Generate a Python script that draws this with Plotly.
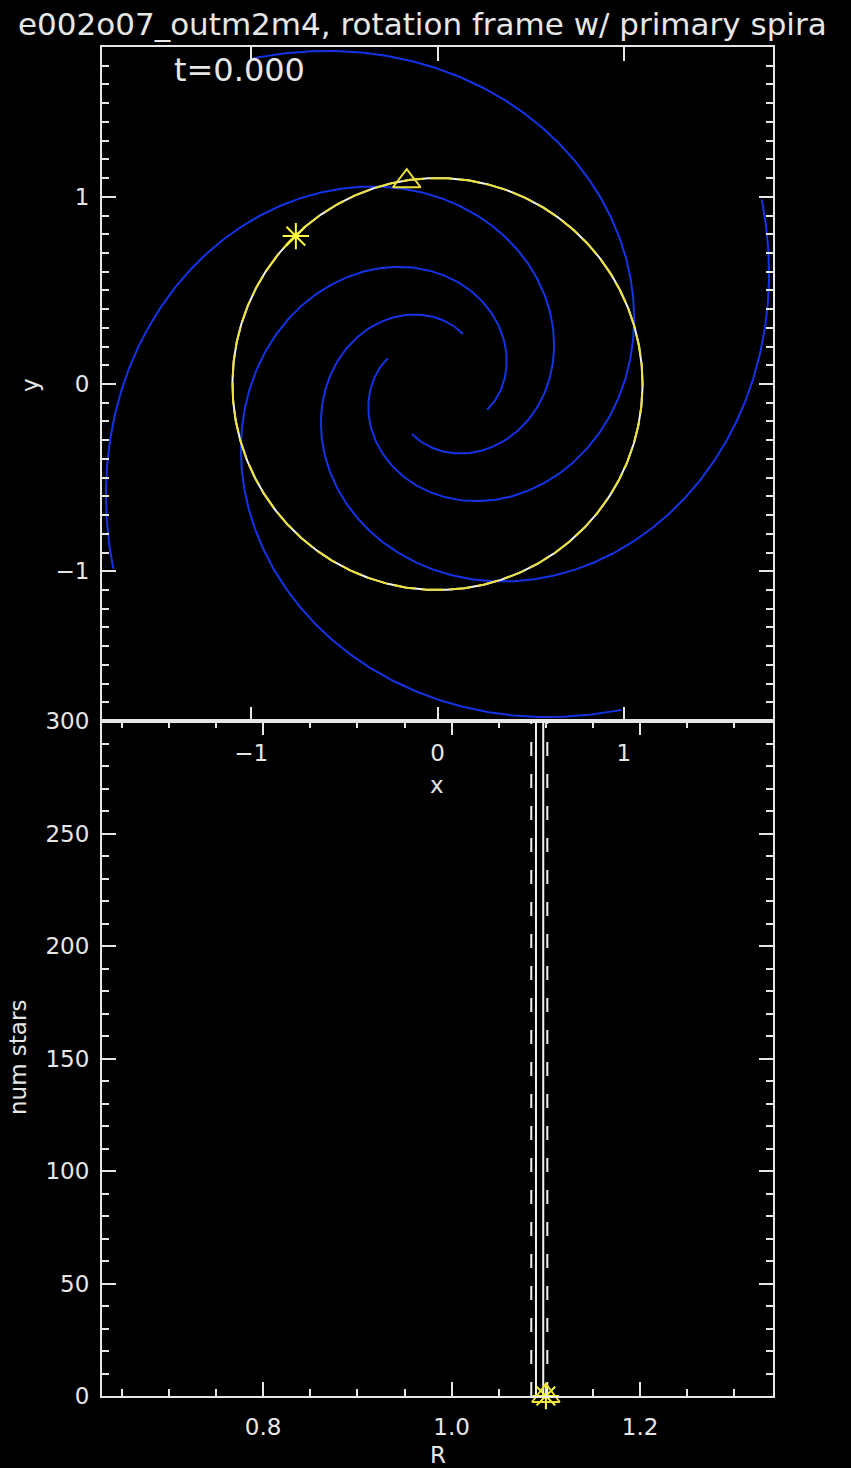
import numpy as np
import plotly.graph_objects as go

# ---- top panel: spiral arms, star ring and tracked stars ----
arm_start_deg = [62.8, 152.8, 242.8, 332.8]   # azimuth of each arm's inner end
arm_r_inner = 0.30
arm_r_outer = 2.00
arm_pitch_deg = 18.4
ring_radius = 1.10
star_xy = (-0.76, 0.79)
triangle_xy = (-0.165, 1.083)

# ---- bottom panel: radial histogram of the stars ----
hist_edges = [1.0895, 1.0972]
hist_count = 360
guide_R = [1.0845, 1.1015]
star_R = 1.100
triangle_R = 1.100

x_ticks = [-1, 0, 1]
y_ticks = [-1, 0, 1]
R_ticks = [0.8, 1.0, 1.2]
N_ticks = [0, 50, 100, 150, 200, 250, 300]

FONT = "DejaVu Sans"
AXC = "#e6e6e6"
BLUE = "#1433e6"
YELLOW = "#ece03a"
STARC = "#ffff3c"

fig = go.Figure()

# logarithmic spiral arms
r = np.linspace(arm_r_inner, arm_r_outer, 400)
k = np.tan(np.radians(arm_pitch_deg))
for a0 in arm_start_deg:
    th = np.radians(a0) + np.log(r / arm_r_inner) / k
    fig.add_trace(go.Scatter(x=r * np.cos(th), y=r * np.sin(th), mode="lines",
                             line=dict(color=BLUE, width=2), xaxis="x", yaxis="y",
                             hoverinfo="skip"))

# ring of stars (white underneath, yellow dashes on top)
phi = np.linspace(0, 2 * np.pi, 721)
fig.add_trace(go.Scatter(x=ring_radius * np.cos(phi), y=ring_radius * np.sin(phi), mode="lines",
                         line=dict(color="#f2f2f2", width=2), xaxis="x", yaxis="y"))
fig.add_trace(go.Scatter(x=ring_radius * np.cos(phi), y=ring_radius * np.sin(phi), mode="lines",
                         line=dict(color=YELLOW, width=2, dash="22px,6px"), xaxis="x", yaxis="y"))


def star_marker():
    return dict(symbol="asterisk-open", size=22, color=STARC,
                line=dict(color=STARC, width=2))


def tri_marker():
    return dict(symbol="triangle-up-open", size=24, color=YELLOW,
                line=dict(color=YELLOW, width=2))


fig.add_trace(go.Scatter(x=[star_xy[0]], y=[star_xy[1]], mode="markers",
                         marker=star_marker(), xaxis="x", yaxis="y", cliponaxis=False))
fig.add_trace(go.Scatter(x=[triangle_xy[0]], y=[triangle_xy[1]], mode="markers",
                         marker=tri_marker(), xaxis="x", yaxis="y", cliponaxis=False))

# histogram drawn as a step outline
fig.add_trace(go.Scatter(x=[hist_edges[0], hist_edges[0], hist_edges[1], hist_edges[1]],
                         y=[0, hist_count, hist_count, 0], mode="lines",
                         line=dict(color="#f0f0f0", width=2), xaxis="x2", yaxis="y2"))
for g in guide_R:
    fig.add_trace(go.Scatter(x=[g, g], y=[0, 300], mode="lines",
                             line=dict(color="#f0f0f0", width=2, dash="14px,18px"),
                             xaxis="x2", yaxis="y2"))
fig.add_trace(go.Scatter(x=[star_R], y=[0], mode="markers", marker=star_marker(),
                         xaxis="x2", yaxis="y2", cliponaxis=False))
fig.add_trace(go.Scatter(x=[triangle_R], y=[0], mode="markers", marker=tri_marker(),
                         xaxis="x2", yaxis="y2", cliponaxis=False))

split = 675 / 1349


def axis(**kw):
    base = dict(showline=True, linecolor=AXC, linewidth=2, mirror="allticks",
                ticks="inside", tickcolor=AXC, tickwidth=2, ticklen=14,
                showgrid=False, zeroline=False,
                tickfont=dict(family=FONT, size=23, color=AXC))
    base.update(kw)
    return base


fig.update_layout(
    width=851, height=1468,
    margin=dict(l=102, r=78, t=47, b=72),
    paper_bgcolor="black", plot_bgcolor="black", showlegend=False,
    xaxis=axis(domain=[0, 1], anchor="y", range=[-1.8, 1.8], tickvals=x_ticks,
               ticklabelstandoff=10),
    yaxis=axis(domain=[split, 1], anchor="x", range=[-1.8, 1.8], tickvals=y_ticks,
               ticklabelstandoff=6,
               minor=dict(ticks="inside", dtick=0.1, ticklen=7, tickwidth=2, tickcolor=AXC)),
    xaxis2=axis(domain=[0, 1], anchor="y2", range=[0.629, 1.341], tickvals=R_ticks,
                ticktext=["0.8", "1.0", "1.2"], ticklabelstandoff=9,
                minor=dict(ticks="inside", dtick=0.05, tick0=0, ticklen=7, tickwidth=2, tickcolor=AXC)),
    yaxis2=axis(domain=[0, split], anchor="x2", range=[0, 300], tickvals=N_ticks,
                ticklabelstandoff=6,
                minor=dict(ticks="inside", dtick=10, ticklen=7, tickwidth=2, tickcolor=AXC)),
)


def px_x(p):
    return (p - 102) / 671


def px_y(p):
    return (1468 - 72 - p) / 1349


texts = [
    ("e002o07_outm2m4, rotation frame w/ primary spira", 16, 24, 31, 0, "left"),
    ("t=0.000", 172, 70, 32, 0, "left"),
    ("x", 437, 785, 23, 0, "center"),
    ("R", 438, 1455, 23, 0, "center"),
    ("y", 30, 385, 23, -90, "center"),
    ("num stars", 18, 1058, 23, -90, "center"),
]
for t, xp, yp, sz, ang, xa in texts:
    fig.add_annotation(text=t, x=px_x(xp), y=px_y(yp), xref="paper", yref="paper",
                       xanchor=xa, yanchor="middle", showarrow=False, textangle=ang,
                       font=dict(family=FONT, size=sz, color=AXC))

fig.write_html("out.html")
